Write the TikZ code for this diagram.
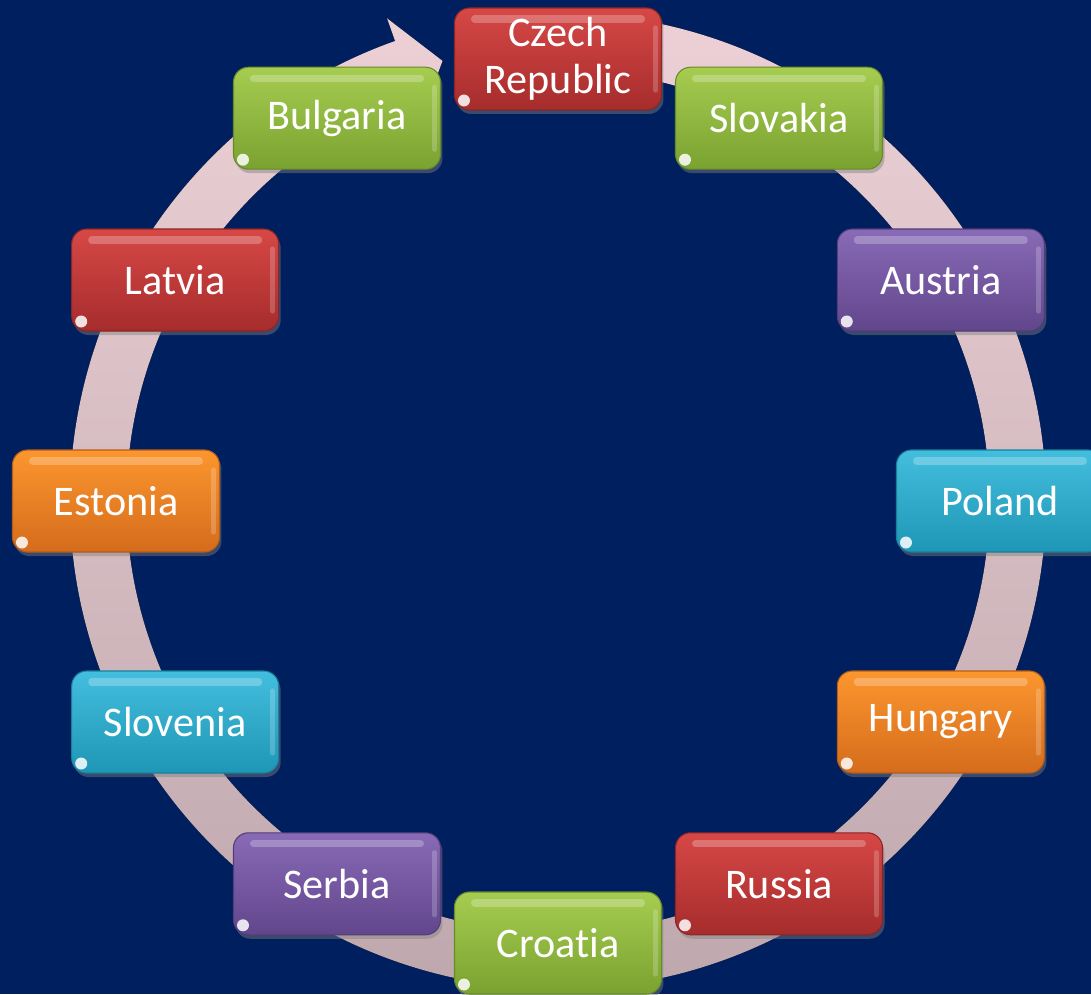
\documentclass[tikz,border=0pt]{standalone}
\usepackage{fontspec}
\setmainfont{Carlito}[Ligatures=NoCommon]
\definecolor{navybg}{RGB}{0, 31, 95}
\definecolor{ringtop}{RGB}{236, 208, 213}
\definecolor{ringbot}{RGB}{188, 166, 172}
\definecolor{redtop}{RGB}{214, 72, 70}
\definecolor{redbot}{RGB}{166, 44, 44}
\definecolor{greentop}{RGB}{166, 204, 80}
\definecolor{greenbot}{RGB}{122, 162, 48}
\definecolor{purpletop}{RGB}{136, 106, 182}
\definecolor{purplebot}{RGB}{98, 70, 140}
\definecolor{cyantop}{RGB}{68, 190, 222}
\definecolor{cyanbot}{RGB}{30, 150, 182}
\definecolor{orangetop}{RGB}{252, 150, 46}
\definecolor{orangebot}{RGB}{212, 108, 28}
\usetikzlibrary{shadows}

\tikzset{
  country/.style={rounded corners=0.3cm, minimum width=4.14cm, minimum height=2.04cm,
    inner sep=0pt, align=center, text=white, font=\fontsize{24}{27}\selectfont,
    top color=#1top, bottom color=#1bot, draw=#1bot!85!black, line width=0.6pt,
    drop shadow={opacity=0.45, shadow xshift=0.04cm, shadow yshift=-0.08cm},
    path picture={
      \draw[white, opacity=0.25, line width=4pt, line cap=round]
        ([xshift=0.4cm, yshift=-0.22cm]path picture bounding box.north west) --
        ([xshift=-0.4cm, yshift=-0.22cm]path picture bounding box.north east);
      \draw[white, opacity=0.2, line width=3pt, line cap=round]
        ([xshift=-0.12cm, yshift=-0.4cm]path picture bounding box.north east) --
        ([xshift=-0.12cm, yshift=0.4cm]path picture bounding box.south east);
      \fill[white, opacity=0.85]
        ([xshift=0.19cm, yshift=0.19cm]path picture bounding box.south west) circle (0.12cm);
    }}
}

\begin{document}
\begin{tikzpicture}
  \clip (-11.16, -9.86) rectangle (10.66, 10.02);
  \fill[navybg] (-11.16, -9.86) rectangle (10.66, 10.02);

  % Cycle ring with arrow head
  \fill[top color=ringtop, bottom color=ringbot]
    (78:9.76) arc[start angle=78, end angle=-250.5, radius=9.76]
    -- (109.5:10.24) -- (104.7:9.1) -- (109.5:8.16) -- (-250.5:8.63)
    arc[start angle=-250.5, end angle=78, radius=8.63] -- cycle;

  % Countries
  \node[country=red] (czech) at (90:8.84) {Czech\\Republic};
  \node[country=green] (slovakia) at (60:8.84) {Slovakia};
  \node[country=purple] (austria) at (30:8.84) {Austria};
  \node[country=cyan] (poland) at (0:8.84) {Poland};
  \node[country=orange] (hungary) at (-30:8.84) {Hungary};
  \node[country=red] (russia) at (-60:8.84) {Russia};
  \node[country=green] (croatia) at (-90:8.84) {Croatia};
  \node[country=purple] (serbia) at (-120:8.84) {Serbia};
  \node[country=cyan] (slovenia) at (-150:8.84) {Slovenia};
  \node[country=orange] (estonia) at (180:8.84) {Estonia};
  \node[country=red] (latvia) at (150:8.84) {Latvia};
  \node[country=green] (bulgaria) at (120:8.84) {Bulgaria};
\end{tikzpicture}
\end{document}
